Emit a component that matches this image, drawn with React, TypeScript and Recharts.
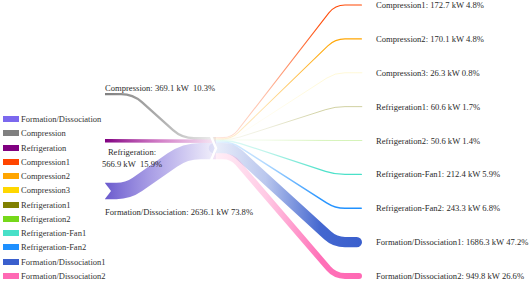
import { Legend, Line, LineChart, XAxis, YAxis } from 'recharts';

// energy flows, kW
const sourceNames = ['Compression', 'Refrigeration', 'Formation/Dissociation'];
const sourceValues = [369.1, 566.9, 2636.1];
const sourcePercents = [10.3, 15.9, 73.8];

const targetNames = [
  'Compression1',
  'Compression2',
  'Compression3',
  'Refrigeration1',
  'Refrigeration2',
  'Refrigeration-Fan1',
  'Refrigeration-Fan2',
  'Formation/Dissociation1',
  'Formation/Dissociation2',
];
const targetValues = [172.7, 170.1, 26.3, 60.6, 50.6, 212.4, 243.3, 1686.3, 949.8];
const targetPercents = [4.8, 4.8, 0.8, 1.7, 1.4, 5.9, 6.8, 47.2, 26.6];

const legendNames = ['Formation/Dissociation', 'Compression', 'Refrigeration', ...targetNames];

// styles
const sourceColors = ['#808080', '#800080', '#6a5acd'];
const sourceMidColors = ['#8c8c8c', '#c04ab0', '#9486e0'];
const targetColors = [
  '#ff4500',
  '#ffa500',
  '#ffd700',
  '#808000',
  '#76d81a',
  '#48e0c8',
  '#1e90ff',
  '#3a5fcd',
  '#ff69b4',
];
const legendColors = ['#7b68ee', '#808080', '#800080', ...targetColors];

// layout
const W = 529;
const H = 289;
const MARGIN = { top: 5, right: 0, bottom: 13, left: 0 };
const SLOT = (H - MARGIN.top - MARGIN.bottom) / (targetNames.length - 1);
const K = 0.0062; // px of band per kW
const HUB_TOP = 3.9; // slot units
const sourceSlots = [2.63, 4.01, 5.49];
const sourceStops = [
  [105, 133, 182, 216],
  [105, 216],
  [105, 128, 185, 216],
];
const targetStops = [214, 232, 335, 362];
const FONT = '"Liberation Serif", "Times New Roman", serif';

const width = (v: number) => v * K;

function rounded(radius: number) {
  return (context: any) => {
    let pts: number[][] = [];
    return {
      areaStart() {},
      areaEnd() {},
      lineStart() {
        pts = [];
      },
      point(x: number, y: number) {
        pts.push([+x, +y]);
      },
      lineEnd() {
        if (!pts.length) return;
        context.moveTo(pts[0][0], pts[0][1]);
        for (let i = 1; i < pts.length - 1; i++) {
          const [px, py] = pts[i - 1];
          const [cx, cy] = pts[i];
          const [nx, ny] = pts[i + 1];
          const d1 = Math.hypot(cx - px, cy - py);
          const d2 = Math.hypot(nx - cx, ny - cy);
          const r = Math.min(radius, d1 / 2, d2 / 2);
          if (!r) {
            context.lineTo(cx, cy);
            continue;
          }
          context.lineTo(cx - ((cx - px) / d1) * r, cy - ((cy - py) / d1) * r);
          context.quadraticCurveTo(cx, cy, cx + ((nx - cx) / d2) * r, cy + ((ny - cy) / d2) * r);
        }
        const last = pts[pts.length - 1];
        context.lineTo(last[0], last[1]);
      },
    };
  };
}

// where each band sits inside the hub, stacked top to bottom
const stackSlots = (values: number[]) => {
  let acc = 0;
  return values.map((v) => {
    const w = width(v);
    const s = HUB_TOP + (acc + w / 2) / SLOT;
    acc += w;
    return s;
  });
};
const sourceHub = stackSlots(sourceValues);
const targetHub = stackSlots(targetValues);

// first half of the stops stay on the source row, the rest run at hub level
const sourceData = sourceNames.map((_, i) => {
  const xs = sourceStops[i];
  const flat = Math.max(1, xs.length - 2);
  return xs.map((x, j) => ({ x, y: j < flat ? sourceSlots[i] : sourceHub[i] }));
});

const targetData = targetNames.map((_, i) => {
  const w = width(targetValues[i]);
  return [
    { x: targetStops[0], y: targetHub[i] },
    { x: targetStops[1], y: targetHub[i] },
    { x: targetStops[2], y: i },
    { x: targetStops[3] - w / 2, y: i },
  ];
});

const textStyle = { fontFamily: FONT, fontSize: 8.6, fill: '#2a2a2a', whiteSpace: 'pre' as const };

const targetDot = (i: number) => (p: any) => {
  const key = `t${i}-${p.index}`;
  if (p.index !== targetData[i].length - 1) return <g key={key} />;
  const w = width(targetValues[i]);
  return (
    <text key={key} x={p.cx + w / 2 + 14} y={p.cy} dominantBaseline='central' style={textStyle}>
      {`${targetNames[i]}: ${targetValues[i].toFixed(1)} kW ${targetPercents[i].toFixed(1)}%`}
    </text>
  );
};

const sourceDot = (i: number) => (p: any) => {
  const key = `s${i}-${p.index}`;
  const last = sourceData[i].length - 1;
  const v = sourceValues[i].toFixed(1);
  const pct = sourcePercents[i].toFixed(1);
  if (p.index === 0) {
    if (i === 0) {
      return (
        <text key={key} x={p.cx} y={p.cy - 6} dominantBaseline='central' style={textStyle}>
          {`${sourceNames[i]}: ${v} kW  ${pct}%`}
        </text>
      );
    }
    if (i === 1) {
      return (
        <g key={key}>
          <text x={p.cx + 27} y={p.cy + 11} textAnchor='middle' dominantBaseline='central' style={textStyle}>
            {`${sourceNames[i]}:`}
          </text>
          <text x={p.cx + 27} y={p.cy + 23} textAnchor='middle' dominantBaseline='central' style={textStyle}>
            {`${v} kW  ${pct}%`}
          </text>
        </g>
      );
    }
    const w = width(sourceValues[i]);
    return (
      <g key={key}>
        <polygon
          points={`${p.cx - 1},${p.cy - w / 2 - 1} ${p.cx + 6},${p.cy} ${p.cx - 1},${p.cy + w / 2 + 1}`}
          fill='#fff'
        />
        <text x={p.cx} y={p.cy + 21} dominantBaseline='central' style={textStyle}>
          {`${sourceNames[i]}: ${v} kW ${pct}%`}
        </text>
      </g>
    );
  }
  if (i === 2 && p.index === last) {
    // white chevron splitting the hub
    const wf = width(sourceValues[2]);
    const top = p.cy - wf / 2 - width(sourceValues[0]) - width(sourceValues[1]);
    const bottom = p.cy + wf / 2;
    const mid = (top + bottom) / 2;
    return (
      <polyline
        key={key}
        points={`${p.cx - 5},${top - 1} ${p.cx},${mid} ${p.cx - 5},${bottom + 1}`}
        fill='none'
        stroke='#fff'
        strokeWidth={2.5}
      />
    );
  }
  return <g key={key} />;
};

function LegendBox() {
  return (
    <div style={{ fontFamily: FONT, fontSize: 8.5, color: '#333' }}>
      {legendNames.map((name, i) => (
        <div key={name} style={{ display: 'flex', alignItems: 'center', height: 14.25 }}>
          <span
            style={{ display: 'inline-block', width: 16, height: 6, background: legendColors[i], marginRight: 2 }}
          />
          <span>{name}</span>
        </div>
      ))}
    </div>
  );
}

export default function App() {
  return (
    <div style={{ position: 'absolute', left: 0, top: 0, width: W, height: H, background: '#fff' }}>
      <LineChart width={W} height={H} margin={MARGIN}>
        <defs>
          {targetColors.map((c, i) => (
            <linearGradient
              key={`gt${i}`}
              id={`gt${i}`}
              gradientUnits='userSpaceOnUse'
              x1={targetStops[0]}
              x2={targetStops[3]}
              y1={0}
              y2={0}
            >
              <stop offset='0%' stopColor={c} stopOpacity={0.1} />
              <stop offset='35%' stopColor={c} stopOpacity={0.35} />
              <stop offset='72%' stopColor={c} stopOpacity={0.95} />
              <stop offset='100%' stopColor={c} stopOpacity={1} />
            </linearGradient>
          ))}
          {sourceColors.map((c, i) => (
            <linearGradient
              key={`gs${i}`}
              id={`gs${i}`}
              gradientUnits='userSpaceOnUse'
              x1={sourceStops[i][0]}
              x2={sourceStops[i][sourceStops[i].length - 1]}
              y1={0}
              y2={0}
            >
              <stop offset='0%' stopColor={c} stopOpacity={1} />
              <stop offset='50%' stopColor={sourceMidColors[i]} stopOpacity={0.7} />
              <stop offset='100%' stopColor={sourceMidColors[i]} stopOpacity={0.12} />
            </linearGradient>
          ))}
        </defs>
        <XAxis type='number' dataKey='x' domain={[0, W]} hide />
        <YAxis type='number' domain={[0, targetNames.length - 1]} reversed hide />
        <Legend
          layout='vertical'
          align='center'
          verticalAlign='middle'
          width={110}
          wrapperStyle={{ left: 3, top: 112 }}
          content={() => <LegendBox />}
        />
        {targetNames.map((name, i) => (
          <Line
            key={name}
            name={name}
            data={targetData[i]}
            dataKey='y'
            type={rounded(10) as any}
            stroke={`url(#gt${i})`}
            strokeWidth={width(targetValues[i])}
            strokeLinecap='round'
            dot={targetDot(i)}
            activeDot={false}
            isAnimationActive={false}
          />
        ))}
        {sourceNames.map((name, i) => (
          <Line
            key={name}
            name={name}
            data={sourceData[i]}
            dataKey='y'
            type={rounded(i === 2 ? 16 : 12) as any}
            stroke={`url(#gs${i})`}
            strokeWidth={width(sourceValues[i])}
            dot={sourceDot(i)}
            activeDot={false}
            isAnimationActive={false}
          />
        ))}
      </LineChart>
    </div>
  );
}
